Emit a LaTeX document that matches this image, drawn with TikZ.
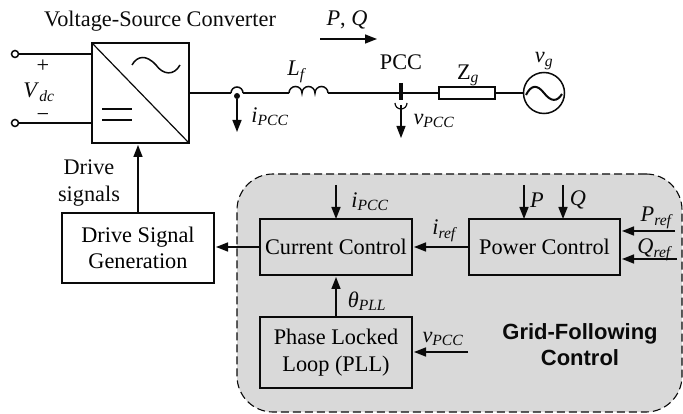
\documentclass[tikz,border=0pt]{standalone}
\usepackage{fontspec}
\setmainfont{Liberation Serif}
\newfontfamily\gridfont{Liberation Sans}
\usetikzlibrary{positioning,arrows.meta,calc}
\definecolor{ZoneGray}{RGB}{217,217,217}
\definecolor{InkBlack}{RGB}{10,10,10}
\newcommand{\vary}[2]{\textit{#1}\textsubscript{\textit{#2}}}
\tikzset{
  flow/.style={-{Stealth[length=12pt,width=9pt,inset=0pt]},line width=1.5pt,draw=InkBlack,shorten >=2pt},
  wire/.style={line width=1.5pt,draw=InkBlack},
  block/.style={draw=InkBlack,line width=1.5pt,align=center,inner sep=0pt,outer sep=0pt,
    font=\fontsize{22.3}{26.5}\selectfont},
  lbl/.style={inner sep=0pt,align=center,text=InkBlack,font=\fontsize{22.3}{27}\selectfont},
  terminal/.style={circle,draw=InkBlack,line width=1.5pt,fill=white,inner sep=0pt,minimum size=7pt},
  zone/.style={draw=InkBlack,fill=ZoneGray,line width=1.1pt,dash pattern=on 8pt off 4pt,
    rounded corners=36pt,inner sep=0pt,minimum width=445pt,minimum height=238pt}
}
\begin{document}
\begin{tikzpicture}[x=1pt,y=1pt]
  \useasboundingbox (0,0) rectangle (683,-414);
  % control zone first, everything sits on top
  \node[zone] (zone) at (459.5,-293) {};
  \node[block,minimum width=152pt,minimum height=56pt] (curctrl) at (336,-247) {Current Control};
  \node[block,minimum width=151pt,minimum height=56pt,right=57pt of curctrl] (pwrctrl) {Power Control};
  \node[block,minimum width=152pt,minimum height=71pt,below=42pt of curctrl] (pll) {Phase Locked\\Loop (PLL)};
  \node[block,minimum width=152pt,minimum height=70pt,fill=white] (drvgen) at (138,-248) {Drive Signal\\Generation};
  \node[block,minimum width=97pt,minimum height=100pt] (conv) at (140.5,-93) {};
  \node[lbl] (title) at (160,-21) {Voltage-Source Converter};
  % dc side
  \node[terminal] (dcpos) at (15,-54) {};
  \node[terminal] (dcneg) at (15,-123) {};
  \draw[wire] (dcpos) -- (dcpos-|conv.west);
  \draw[wire] (dcneg) -- (dcneg-|conv.west);
  \node[lbl] (plus) at (43,-66) {+};
  \node[lbl] (minus) at (43,-118) {\textminus};
  \node[lbl] (vdc) at (39,-92) {\vary{V}{dc}};
  \draw[line width=1.2pt,draw=InkBlack] (conv.north west) -- (conv.south east);
  \draw[line width=1.5pt,draw=InkBlack] (132,-65) .. controls (137,-56) and (146,-54) .. (156,-65)
    .. controls (163,-75) and (174,-76) .. (180,-65);
  \draw[wire] (102,-109) -- (132,-109);
  \draw[wire] (102,-120) -- (132,-120);
  % ac side
  \coordinate (humpL) at (231,-93);
  \coordinate (humpR) at (243,-93);
  \coordinate (coilL) at (289,-93);
  \coordinate (coilR) at (328,-93);
  \node[circle,fill=InkBlack,inner sep=0pt,minimum size=6pt] (isense) at (237,-96) {};
  \coordinate (iend) at (237,-134);
  \draw[wire] (conv.east|-humpL) -- (humpL);
  \draw[wire] (humpL) arc[start angle=180,end angle=0,radius=6pt];
  \draw[wire] (humpR) -- (coilL);
  \draw[wire] (coilL) arc[start angle=180,end angle=0,radius=6.5pt]
    arc[start angle=180,end angle=0,radius=6.5pt] arc[start angle=180,end angle=0,radius=6.5pt];
  \draw[flow] (isense) -- (iend);
  \node[lbl] (ipcc) at (270,-117) {\vary{i}{PCC}};
  \node[lbl] (lf) at (297,-72) {\vary{L}{f}};
  \node[block,minimum width=56pt,minimum height=12pt] (zg) at (467,-93) {};
  \node[circle,draw=InkBlack,line width=1.5pt,inner sep=0pt,minimum size=41pt] (src) at (544,-93) {};
  \draw[wire] (coilR) -- (zg);
  \draw[wire] (zg) -- (src);
  \coordinate (pccT) at (401,-83);
  \coordinate (pccB) at (401,-100);
  \coordinate (vend) at (401,-138);
  \draw[line width=4pt,draw=InkBlack] (pccT) -- (pccB);
  \draw[line width=1.2pt,draw=InkBlack] (395,-103) arc[start angle=180,end angle=360,radius=6pt];
  \draw[-{Stealth[length=12pt,width=9pt,inset=0pt]},line width=1.2pt,draw=InkBlack] (401,-105) -- (vend);
  \draw[line width=2pt,draw=InkBlack] (526,-95) .. controls (531,-85) and (537,-84) .. (544,-93)
    .. controls (551,-102) and (557,-102) .. (562,-94);
  \node[lbl] (pcc) at (401,-62) {PCC};
  \node[lbl] (vpcc) at (434,-121) {\vary{v}{PCC}};
  \node[lbl] (zglbl) at (468,-75) {Z\textsubscript{\textit{g}}};
  \node[lbl] (vg) at (544,-61) {\vary{v}{g}};
  \node[lbl] (pq) at (347,-20) {\textit{P}, \textit{Q}};
  \coordinate (pqL) at (320,-39);
  \coordinate (pqR) at (379,-39);
  \draw[flow] (pqL) -- (pqR);
  % drive path
  \draw[flow] (drvgen.north) -- (drvgen.north|-conv.south);
  \node[lbl] (drvlbl) at (89,-183) {Drive\\signals};
  \draw[flow] (curctrl.west) -- (curctrl.west-|drvgen.east);
  % control signals
  \coordinate (ipccin) at (336,-185);
  \coordinate (pin) at (524,-185);
  \coordinate (qin) at (563,-185);
  \coordinate (prefin) at (675,-231);
  \coordinate (qrefin) at (677,-259);
  \coordinate (vpccin) at (468,-352);
  \draw[flow,shorten >=0pt] (ipccin) -- (curctrl.north);
  \draw[flow,shorten >=0pt] (pin) -- (pin|-pwrctrl.north);
  \draw[flow,shorten >=0pt] (qin) -- (qin|-pwrctrl.north);
  \draw[flow] (prefin) -- (prefin-|pwrctrl.east);
  \draw[flow] (qrefin) -- (qrefin-|pwrctrl.east);
  \draw[flow] (pwrctrl.west) -- (pwrctrl.west-|curctrl.east);
  \draw[flow] (pll.north) -- (curctrl.south);
  \draw[flow] (vpccin) -- (vpccin-|pll.east);
  \node[lbl] (ipcc2) at (370,-202) {\vary{i}{PCC}};
  \node[lbl] (iref) at (445,-231) {\vary{i}{ref}};
  \node[lbl] (plbl) at (537,-200) {\textit{P}};
  \node[lbl] (qlbl) at (578,-200) {\textit{Q}};
  \node[lbl] (preflbl) at (657,-218) {\vary{P}{ref}};
  \node[lbl] (qreflbl) at (655,-250) {\vary{Q}{ref}};
  \node[lbl] (theta) at (367,-301) {\vary{θ}{PLL}};
  \node[lbl] (vpcc2) at (443,-339) {\vary{v}{PCC}};
  \node[lbl,font=\gridfont\bfseries\fontsize{22}{26}\selectfont] (gfl) at (580,-345) {Grid-Following\\Control};
\end{tikzpicture}
\end{document}
